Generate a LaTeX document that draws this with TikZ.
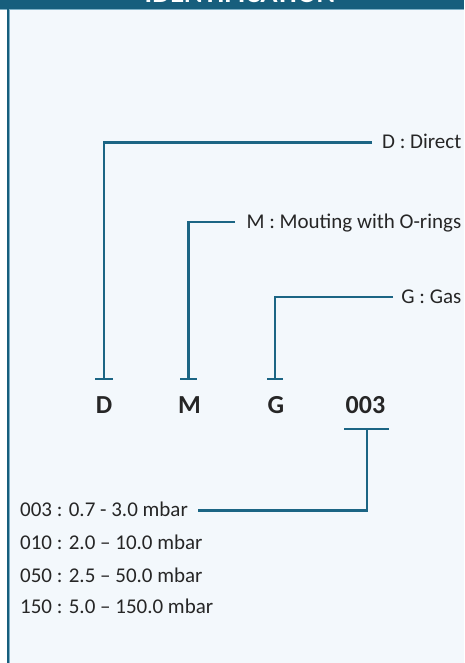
\documentclass[tikz,border=0pt]{standalone}
\usepackage{fontspec}
\setmainfont{Carlito}
\definecolor{lineteal}{HTML}{1B6584}
\definecolor{band}{HTML}{175E7D}
\definecolor{bg}{HTML}{F3F8FC}
\definecolor{edgeteal}{HTML}{7FB0C6}
\definecolor{txt}{HTML}{262626}
\begin{document}
\begin{tikzpicture}[x=1pt,y=-1pt,
  conn/.style={draw=lineteal, line width=2.6pt},
  lbl/.style={inner sep=0, font=\fontsize{21}{21}\selectfont, text=txt},
  code/.style={inner sep=0, font=\fontsize{26}{26}\selectfont\bfseries, text=txt}]
\useasboundingbox (0,0) rectangle (464,663);
\clip (0,0) rectangle (464,663);
\fill[white] (0,0) rectangle (464,663);
\fill[bg] (8,9) rectangle (464,663);
\fill[band] (0,0) rectangle (464,9);
\draw[edgeteal, line width=1pt] (0,9.3) -- (464,9.3);
\draw[band, line width=2pt] (7.7,9) -- (7.7,663);
\draw[edgeteal, line width=1pt] (9.3,9.8) -- (9.3,663);
\node[anchor=base, inner sep=0, text=white, font=\fontsize{28.5}{28.5}\selectfont\bfseries] (title) at (240,2.5) {IDENTIFICATION};

% code letters
\node[code, anchor=base] (D) at (104,413.4) {D};
\node[code, anchor=base] (M) at (189.5,413.4) {M};
\node[code, anchor=base] (G) at (276,413.4) {G};
\node[code, anchor=base] (N) at (365.5,413.4) {003};

% right labels
\node[lbl, anchor=base east] (Dl) at (461.5,148.8) {D : Direct};
\node[lbl, anchor=base east] (Ml) at (461.5,228.8) {M : Mouting with O-rings};
\node[lbl, anchor=base east] (Gl) at (461.5,303.8) {G : Gas};

% pressure labels
\node[lbl, anchor=base west] (p1) at (20,516.8) {003 : 0.7 - 3.0 mbar};
\node[lbl, anchor=base west] (p2) at (20,549.1) {010 : 2.0 – 10.0 mbar};
\node[lbl, anchor=base west] (p3) at (20,582.2) {050 : 2.5 – 50.0 mbar};
\node[lbl, anchor=base west] (p4) at (20,613.8) {150 : 5.0 – 150.0 mbar};

% connector end points
\coordinate (Dend) at (372,142.5);
\coordinate (Dfoot) at (104,379);
\coordinate (Mend) at (235,222);
\coordinate (Mfoot) at (188.5,379);
\coordinate (Gend) at (393,297);
\coordinate (Gfoot) at (275,379);
\coordinate (Ntop) at (367,429);
\coordinate (Nend) at (198,510.5);

\draw[conn] (Dend) -| (Dfoot);
\draw[conn] (Mend) -| (Mfoot);
\draw[conn] (Gend) -| (Gfoot);
\draw[conn] (Ntop) |- (Nend);

% T bars
\draw[conn] ([xshift=-9pt]Dfoot) -- ([xshift=9pt]Dfoot);
\draw[conn] ([xshift=-8.5pt]Mfoot) -- ([xshift=8.5pt]Mfoot);
\draw[conn] ([xshift=-8pt]Gfoot) -- ([xshift=8pt]Gfoot);
\draw[conn] ([xshift=-23pt]Ntop) -- ([xshift=22pt]Ntop);
\end{tikzpicture}
\end{document}
